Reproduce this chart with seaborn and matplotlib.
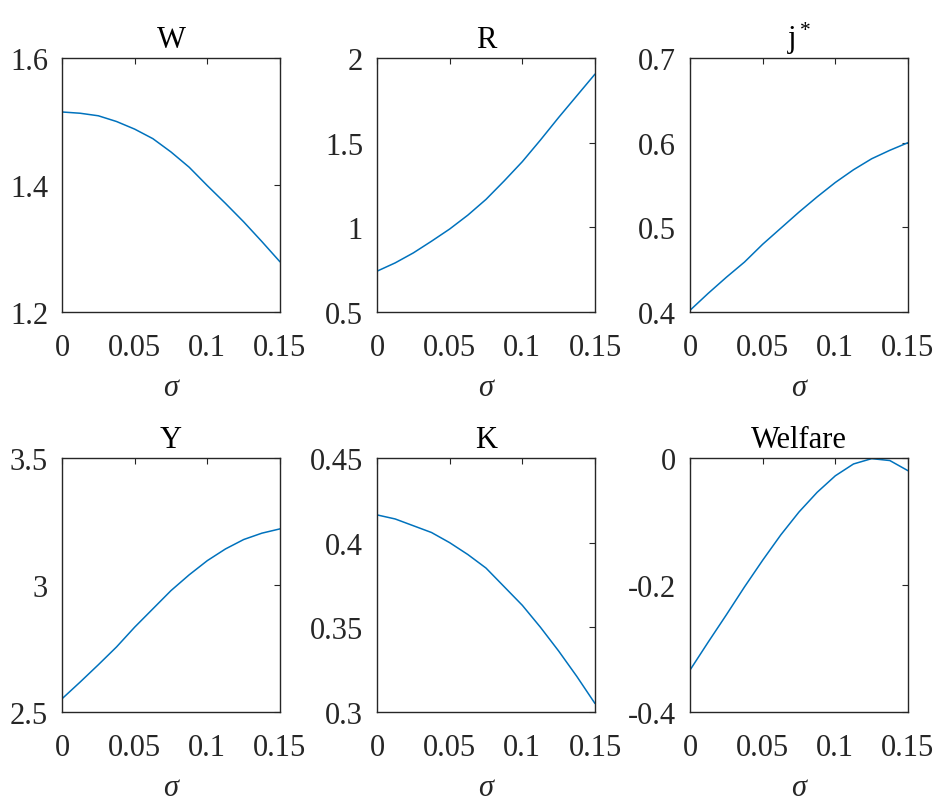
import matplotlib
matplotlib.use("Agg")
import matplotlib.pyplot as plt
import seaborn as sns
import pandas as pd

# ---- data ----
sigma = [0.0, 0.0125, 0.025, 0.0375, 0.05, 0.0625, 0.075, 0.0875, 0.1, 0.1125, 0.125, 0.1375, 0.15]
W_vals = [1.515, 1.513, 1.509, 1.500, 1.488, 1.473, 1.452, 1.428, 1.399, 1.371, 1.342, 1.311, 1.279]
R_vals = [0.741, 0.790, 0.849, 0.918, 0.990, 1.072, 1.165, 1.274, 1.388, 1.516, 1.649, 1.777, 1.905]
j_vals = [0.402, 0.422, 0.441, 0.459, 0.480, 0.499, 0.518, 0.536, 0.553, 0.568, 0.581, 0.591, 0.600]
Y_vals = [2.552, 2.618, 2.686, 2.756, 2.834, 2.906, 2.978, 3.040, 3.096, 3.142, 3.179, 3.204, 3.221]
K_vals = [0.4164, 0.414, 0.410, 0.406, 0.400, 0.393, 0.385, 0.374, 0.363, 0.350, 0.336, 0.321, 0.305]
Welfare_vals = [-0.334, -0.290, -0.247, -0.203, -0.161, -0.121, -0.085, -0.054, -0.028, -0.0094, -0.001, -0.004, -0.020]

titles = ["W", "R", r"$\mathregular{j^*}$", "Y", "K", "Welfare"]
series = [W_vals, R_vals, j_vals, Y_vals, K_vals, Welfare_vals]
x_ticks = [0, 0.05, 0.1, 0.15]
x_ticklabels = ["0", "0.05", "0.1", "0.15"]
y_ticks = [
    [1.2, 1.4, 1.6],
    [0.5, 1, 1.5, 2],
    [0.4, 0.5, 0.6, 0.7],
    [2.5, 3, 3.5],
    [0.3, 0.35, 0.4, 0.45],
    [-0.4, -0.2, 0],
]
y_ticklabels = [
    ["1.2", "1.4", "1.6"],
    ["0.5", "1", "1.5", "2"],
    ["0.4", "0.5", "0.6", "0.7"],
    ["2.5", "3", "3.5"],
    ["0.3", "0.35", "0.4", "0.45"],
    ["-0.4", "-0.2", "0"],
]
xlabel = "σ"

# ---- style ----
sns.set_theme(style="white")
FS = 22
plt.rcParams.update({
    "font.family": ["Liberation Serif", "DejaVu Serif"],
    "mathtext.fontset": "custom",
    "mathtext.rm": "Liberation Serif",
    "mathtext.it": "Liberation Serif:italic",
    "axes.unicode_minus": False,
    "axes.edgecolor": "#262626",
    "axes.linewidth": 1.0,
    "xtick.direction": "in",
    "ytick.direction": "in",
    "xtick.top": True,
    "ytick.right": True,
    "xtick.color": "#262626",
    "ytick.color": "#262626",
    "text.color": "#262626",
})

fig = plt.figure(figsize=(9.42, 8.04), dpi=100)
W, H = 942.0, 804.0
lefts = [62, 377, 690]
tops = [59, 459]
aw, ah = 218, 254

line_color = "#0072BD"

for i, (vals, title) in enumerate(zip(series, titles)):
    r, c = divmod(i, 3)
    ax = fig.add_axes([lefts[c] / W, 1 - (tops[r] + ah) / H, aw / W, ah / H])
    df = pd.DataFrame({"sigma": sigma, "value": vals})
    sns.lineplot(data=df, x="sigma", y="value", ax=ax, color=line_color, linewidth=1.1)
    ax.set_xlim(0, 0.15)
    ax.set_ylim(y_ticks[i][0], y_ticks[i][-1])
    ax.set_xticks(x_ticks)
    ax.set_xticklabels(x_ticklabels)
    ax.set_yticks(y_ticks[i])
    ax.set_yticklabels(y_ticklabels[i])
    ax.tick_params(axis="both", labelsize=FS, length=4, width=0.8)
    ax.tick_params(axis="x", pad=15)
    ax.tick_params(axis="y", pad=10)
    ax.set_title(title, fontsize=FS, pad=8, color="black")
    ax.set_xlabel(xlabel, fontsize=FS, fontstyle="italic", labelpad=8)
    ax.set_ylabel("")
    for s in ax.spines.values():
        s.set_visible(True)
        s.set_color("#262626")

fig.savefig("out.png", dpi=100, facecolor="white")
